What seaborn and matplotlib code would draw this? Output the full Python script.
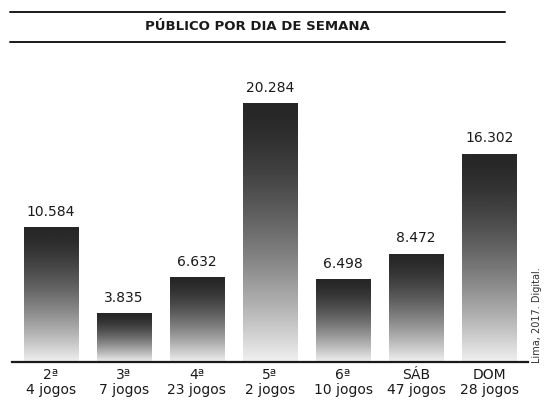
import numpy as np
import pandas as pd
import matplotlib
matplotlib.use("Agg")
import matplotlib.pyplot as plt
import seaborn as sns
from matplotlib.lines import Line2D

# dados
dias = ["2ª", "3ª", "4ª", "5ª", "6ª", "SÁB", "DOM"]
jogos = [4, 7, 23, 2, 10, 47, 28]
publico = [10584, 3835, 6632, 20284, 6498, 8472, 16302]

rotulos = [f"{d}\n{j} jogos" for d, j in zip(dias, jogos)]
df = pd.DataFrame({"dia": rotulos, "publico": publico})

sns.set_style("white")
plt.rcParams["font.family"] = ["DejaVu Sans"]

fig = plt.figure(figsize=(5.44, 4.08), dpi=100)
ax = fig.add_axes([12 / 544, 46 / 408, 516 / 544, 302 / 408])

sns.barplot(data=df, x="dia", y="publico", width=0.74, ax=ax,
            color="white", edgecolor="#444444", linewidth=0.5)

# degradê escuro em cima -> claro embaixo, recortado em cada barra
t = np.linspace(0.0, 1.0, 256).reshape(-1, 1)
grad = 0.15 + 0.79 * t ** 1.5
for p in ax.patches:
    x0, y0 = p.get_x(), p.get_y()
    w, h = p.get_width(), p.get_height()
    im = ax.imshow(grad, cmap="gray", vmin=0, vmax=1, aspect="auto",
                   extent=[x0, x0 + w, y0, y0 + h], origin="upper", zorder=p.get_zorder() + 0.1)
    im.set_clip_path(p)

ax.set_xlim(-0.53, 6.53)
ax.set_ylim(0, 23650)

for c in ax.containers:
    ax.bar_label(c, labels=[f"{v:,}".replace(",", ".") for v in publico],
                 padding=6, fontsize=10, color="#1a1a1a")

ax.set_xlabel("")
ax.set_ylabel("")
ax.set_yticks([])
ax.tick_params(axis="x", length=0, pad=4, labelsize=10, labelcolor="#1a1a1a")
for lbl in ax.get_xticklabels():
    lbl.set_linespacing(1.1)
sns.despine(ax=ax, left=True, top=True, right=True)
ax.spines["bottom"].set_linewidth(1.6)
ax.spines["bottom"].set_color("#1a1a1a")

# título entre duas linhas
for yy in [1 - 12 / 408, 1 - 42 / 408]:
    fig.add_artist(Line2D([10 / 544, 505 / 544], [yy, yy], color="#1a1a1a", lw=1.4))
fig.text(257 / 544, 1 - 27 / 408, "PÚBLICO POR DIA DE SEMANA", ha="center", va="center",
         fontsize=9.5, fontweight="bold", color="#1a1a1a")

fig.text(537 / 544, 1 - 315 / 408, "Lima, 2017. Digital.", rotation=90, ha="center",
         va="center", fontsize=7, color="#333333")

fig.savefig("out.png", dpi=100, facecolor="white")
